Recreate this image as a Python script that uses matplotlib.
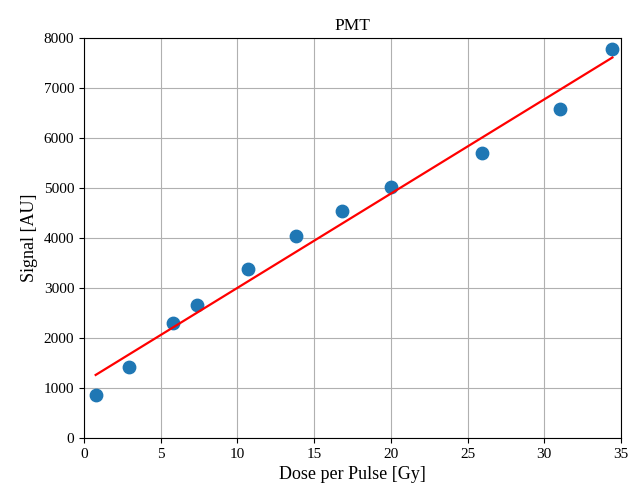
import matplotlib.pyplot as plt
import numpy as np

plt.rcParams['font.family'] = ['Liberation Serif', 'DejaVu Serif']

# dose per pulse [Gy] and PMT signal [AU]
dose = [0.76, 2.95, 5.82, 7.34, 10.71, 13.82, 16.8, 20.0, 25.97, 31.05, 34.44]
signal = [866, 1412, 2306, 2666, 3386, 4032, 4532, 5012, 5700, 6586, 7780]

fig = plt.figure(figsize=(6.34, 4.87), dpi=100)
ax = fig.add_axes([84/634, 1-438/487, (621-84)/634, (438-38)/487])

ax.scatter(dose, signal, s=80, color='#1f77b4', zorder=3)

# linear fit
k, b = np.polyfit(dose, signal, 1)
xx = np.array([min(dose), max(dose)])
ax.plot(xx, k*xx + b, color='red', lw=1.6, zorder=4)

ax.set_xlim(0, 35)
ax.set_ylim(0, 8000)
ax.grid(True, color='#b0b0b0', lw=0.8)
ax.set_axisbelow(True)
ax.tick_params(labelsize=11)
ax.set_title('PMT', fontsize=12.5)
ax.set_xlabel('Dose per Pulse [Gy]', fontsize=13)
ax.set_ylabel('Signal [AU]', fontsize=13)

fig.savefig('out.png', dpi=100)
